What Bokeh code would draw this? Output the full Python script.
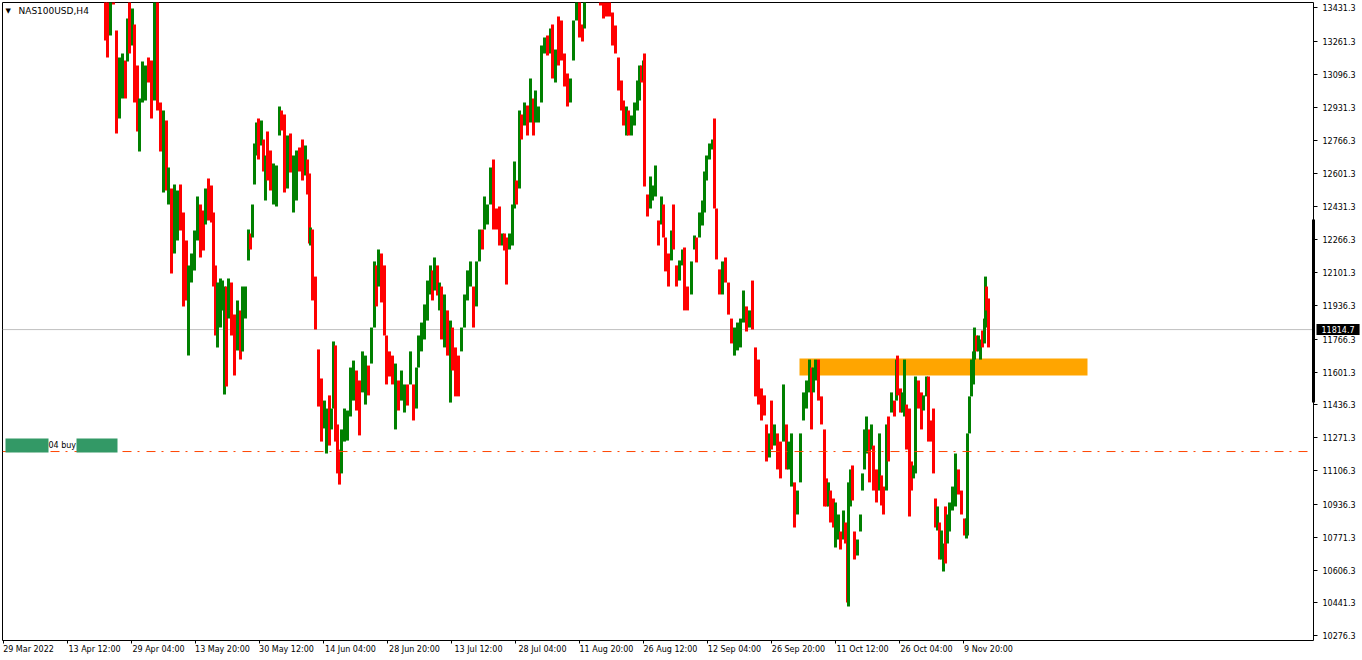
from bokeh.plotting import figure
from bokeh.models import (Range1d, LinearAxis, FixedTicker, PrintfTickFormatter,
                          Span, BoxAnnotation, Label, ColumnDataSource)
from bokeh.embed import file_html
from bokeh.resources import INLINE

symbol_title = "NAS100USD,H4"

# H4 bars (bar position on the time axis, one unit per bar)
bar_index = [105,107,110,113,116,119,122,125,127,129,132,134,137,139,142,145,148,151,154,157,
             160,163,166,168,171,174,177,180,183,186,188,191,194,197,200,203,205,208,211,213,
             215,217,220,222,224,226,228,231,234,237,240,242,245,248,250,252,254,256,258,261,
             263,265,267,270,273,276,279,281,284,287,290,293,296,299,302,305,307,309,310,312,
             315,318,321,324,326,329,331,333,335,337,339,341,344,347,350,353,356,359,362,365,
             368,371,374,376,378,381,384,386,389,392,395,398,401,404,407,410,413,416,418,421,
             424,427,430,432,434,437,439,441,444,447,450,452,455,458,461,464,467,470,473,476,
             479,482,484,487,490,493,496,499,502,504,506,509,512,514,516,519,521,524,527,530,
             533,535,538,541,544,547,550,552,555,558,561,564,567,570,573,576,579,582,584,588,
             592,596,600,603,606,609,612,615,618,621,623,626,628,631,634,637,639,641,643,644,
             647,650,652,655,658,661,663,665,668,671,673,676,679,682,684,687,691,694,696,699,
             702,704,706,709,712,714,716,719,722,725,728,731,734,737,740,743,746,749,752,755,
             758,761,764,766,769,771,774,777,780,783,786,788,791,794,797,800,803,806,809,811,
             813,815,818,821,824,826,828,830,833,835,838,840,843,845,847,848,850,852,854,857,
             860,862,864,866,869,871,873,876,879,881,883,886,888,891,894,896,897,900,902,904,
             906,909,911,913,915,918,921,923,926,928,931,933,935,937,939,941,943,945,947,949,
             952,955,958,961,964,966,967,969,971,973,974,976,978,980,982,984,985,986,988]

open_ = [13480,13440,13320,13540,13300,12900,13000,13150,13180,13450,13260,13330,13120,12740,12980,12990,13160,13150,12990,13470,
         12940,12530,12850,12460,12510,12220,12280,12520,12380,12240,11710,12070,12130,12280,12420,12400,12360,12550,12520,12380,
         12120,11750,11850,11930,11520,12010,11890,12030,11870,11730,11890,11730,11890,12180,12290,12290,12560,12710,12860,12760,
         12750,12480,12790,12700,12460,12450,12810,12900,12880,12540,12780,12420,12480,12720,12750,12600,12650,12580,12250,12300,
         12060,11700,11550,11330,11210,11460,11330,11440,11710,11320,11200,11110,11270,11280,11400,11480,11590,11540,11520,11460,
         11620,11660,11840,12120,12050,12180,12120,11770,11690,11670,11330,11540,11470,11410,11530,11550,11520,11430,11640,11720,
         11780,11880,12000,12100,12030,12120,11930,12010,11750,11890,11470,11810,11710,11670,11720,11840,11980,12050,12010,11950,
         12170,12300,12330,12360,12460,12650,12410,12420,12250,12290,12260,12230,12250,12440,12550,12540,12880,12850,12930,12870,
         12960,12870,12865,12970,13210,13280,13210,13330,13070,13370,13350,13190,13090,12970,13180,13380,13490,13340,13340,13480,
         13650,13490,13550,13500,13480,13500,13400,13330,13170,13050,12950,12800,12900,12800,12850,12930,12980,13130,13070,13160,
         12480,12435,12470,12495,12350,12355,12430,12265,12185,12175,12425,12125,12070,12145,12210,12020,12000,12225,12265,12290,
         12350,12415,12575,12675,12725,12760,12410,12105,12000,12165,12040,11860,11695,11720,11735,11860,11920,11835,11890,11710,
         11650,11505,11475,11325,11180,11440,11240,11280,11240,11265,11325,11120,11035,11035,10895,11055,11365,11425,11510,11610,
         11510,11565,11650,11470,11300,11055,10935,10995,10955,10730,10770,10790,10770,10835,10790,10440,10935,11120,10790,10690,
         10810,11015,11120,11200,11300,11220,11220,11100,11015,11070,11015,11015,11365,11405,11450,11465,11670,11510,11405,11385,
         11425,11405,11140,11075,11100,11550,11490,11415,11485,11570,11350,11410,10955,10815,10835,10670,10610,10915,10750,10810,
         10915,10935,11100,10995,10855,10775,10790,11300,11490,11545,11670,11775,11712,11670,11800,11750,11835,12020,11920]

high = [13518,13493,13543,13568,13317,13182,13202,13167,13378,13493,13428,13347,13141,12976,13162,13141,13182,13167,13518,13493,
        12956,12915,12865,12629,12523,12544,12513,12544,12403,12262,12137,12197,12313,12483,12443,12413,12523,12574,12539,12403,
        12137,12051,12071,12061,12031,12031,12071,12051,11890,11961,11911,12031,12031,12318,12297,12443,12750,12855,12875,12865,
        12770,12689,12810,12714,12649,12639,12935,12915,12895,12790,12800,12689,12714,12730,12770,12740,12669,12599,12328,12318,
        12081,11715,11569,11458,11418,11484,11418,11755,11735,11338,11212,11313,11418,11408,11624,11659,11609,11559,11705,11684,
        11634,11825,12157,12137,12217,12197,12137,11785,11705,11684,11644,11559,11609,11539,11539,11705,11539,11624,11785,11850,
        11941,12061,12137,12112,12177,12137,12051,12031,11991,11911,11860,11825,11725,11684,11825,11991,12112,12157,12031,12157,
        12318,12318,12483,12443,12629,12669,12423,12433,12297,12297,12277,12297,12443,12659,12564,12915,12895,12956,12940,13076,
        12976,13016,12935,13242,13282,13292,13327,13347,13222,13388,13368,13202,13101,13076,13368,13518,13508,13347,13543,13619,
        13669,13644,13568,13518,13493,13518,13408,13342,13182,13066,12966,12935,12915,12890,12956,13066,13141,13141,13167,13202,
        12493,12584,12539,12639,12363,12483,12443,12277,12197,12313,12443,12137,12162,12217,12227,12031,12157,12287,12277,12403,
        12463,12609,12689,12750,12770,12875,12423,12117,12157,12177,12051,11870,11825,11850,11870,12011,11931,11911,12061,11725,
        11664,11519,11484,11338,11293,11458,11338,11293,11252,11539,11338,11252,11293,11047,11006,11293,11499,11559,11664,11624,
        11624,11664,11664,11479,11313,11067,11047,11006,10966,10946,10886,10800,10906,10846,10800,11047,11112,11132,10800,10760,
        10886,11092,11313,11378,11313,11338,11232,11112,11293,11082,11026,11338,11378,11499,11458,11664,11684,11519,11499,11664,
        11438,11418,11152,11132,11579,11559,11499,11484,11579,11579,11358,11418,10966,10926,10846,10805,10740,10926,10886,10946,
        11026,11192,11112,11006,10866,10866,11293,11479,11664,11705,11825,11785,11785,11765,11810,11870,12081,12031,11971]

low = [13267,13182,13292,13448,12800,12875,12976,12976,13162,13202,13242,12956,12810,12709,12956,12966,13056,12875,12966,12915,
       12709,12503,12513,12443,12096,12197,12262,12313,11931,11961,11684,12051,12112,12262,12177,12212,12343,12363,12353,12031,
       11785,11725,11825,11911,11489,11529,11870,11785,11584,11710,11664,11705,11870,12162,12217,12277,12544,12689,12669,12740,
       12609,12463,12564,12513,12443,12433,12790,12815,12503,12523,12604,12403,12463,12609,12564,12589,12493,12247,12237,11961,
       11815,11428,11252,11318,11192,11232,11313,11418,11252,11092,11036,11092,11252,11257,11378,11458,11408,11283,11499,11438,
       11484,11644,11825,11931,12031,11951,11785,11539,11579,11539,11313,11408,11458,11398,11433,11539,11358,11418,11624,11705,
       11765,11860,11991,11961,12011,11986,11911,11765,11725,11684,11448,11609,11479,11479,11705,11825,11961,12031,11825,11931,
       12157,12217,12318,12343,12443,12318,12318,12237,12237,12212,12041,12217,12237,12423,12443,12523,12770,12840,12790,12855,
       12790,12855,12855,12956,13202,13192,13202,13076,13056,13141,13167,13036,12935,12956,13167,13368,13282,13262,13327,13468,
       13493,13478,13443,13378,13388,13388,13242,13202,13016,12915,12840,12790,12790,12790,12840,12915,12966,13056,13066,12534,
       12383,12423,12463,12483,12237,12343,12277,12107,12031,12162,12217,12031,12061,12137,11911,11911,11991,12217,12152,12277,
       12338,12403,12564,12669,12719,12423,12167,11991,11991,12051,11890,11745,11684,11710,11725,11850,11805,11825,11815,11479,
       11438,11358,11383,11152,11172,11212,11232,11112,11067,11252,11112,11112,11026,10820,10886,11047,11358,11418,11499,11313,
       11499,11559,11458,11338,10926,10926,10926,10846,10820,10720,10760,10710,10760,10740,10444,10424,10926,10956,10660,10680,
       10800,11006,11112,11192,11047,11212,11006,10946,11006,10931,10886,11006,11152,11398,11378,11458,11484,11398,11398,11378,
       11212,10876,11006,11067,11092,11418,11313,11408,11479,11252,11252,11092,10820,10805,10660,10660,10599,10640,10740,10800,
       10906,10926,10986,10886,10780,10765,10780,11293,11479,11539,11664,11705,11705,11664,11725,11745,11825,11911,11725]

close = [13290,13210,13500,13460,12830,13150,13180,13000,13350,13230,13400,12990,12840,12950,13140,13120,13070,12900,13480,12940,
         12730,12890,12540,12610,12120,12520,12490,12330,11960,11980,12110,12180,12290,12460,12200,12230,12500,12380,12370,12050,
         11810,12030,12050,12040,12010,11560,12050,11810,11610,11940,11690,12010,12010,12300,12230,12420,12730,12830,12690,12850,
         12630,12670,12590,12530,12630,12620,12920,12830,12530,12770,12620,12670,12690,12620,12580,12730,12510,12270,12320,11990,
         11830,11450,11280,11440,11400,11250,11400,11730,11280,11110,11060,11290,11400,11390,11600,11640,11430,11300,11690,11660,
         11500,11810,12130,11950,12200,11970,11810,11560,11590,11550,11620,11420,11590,11520,11440,11690,11370,11610,11770,11840,
         11920,12040,12120,11980,12160,12000,12040,11790,11970,11700,11840,11630,11500,11500,11810,11970,12090,12140,11850,12140,
         12300,12230,12470,12430,12610,12340,12330,12250,12290,12220,12060,12290,12430,12640,12460,12890,12780,12940,12800,13060,
         12800,13000,12925,13220,13270,13200,13310,13090,13210,13160,13180,13050,12950,13060,13350,13500,13300,13270,13520,13600,
         13510,13630,13450,13390,13400,13400,13250,13210,13030,12930,12850,12920,12800,12880,12940,13050,13130,13060,13160,12560,
         12395,12570,12530,12625,12250,12470,12290,12120,12045,12300,12230,12040,12150,12210,11930,11920,12145,12280,12160,12390,
         12450,12595,12680,12740,12765,12440,12180,12000,12145,12060,11900,11755,11815,11840,11860,12000,11815,11905,11830,11495,
         11450,11370,11390,11165,11285,11225,11330,11125,11080,11525,11125,11245,11280,10830,10995,11280,11490,11550,11655,11325,
         11615,11655,11470,11345,10940,10935,11040,10855,10830,10935,10880,10720,10895,10750,10460,11030,11100,10965,10670,10750,
         10880,11085,11300,11370,11060,11330,11015,10955,11280,10940,10895,11325,11160,11490,11385,11655,11495,11405,11490,11655,
         11220,10890,11015,11125,11570,11425,11320,11475,11570,11260,11260,11100,10830,10915,10670,10795,10730,10650,10875,10935,
         11015,11180,10995,10895,10790,10855,11280,11470,11655,11695,11815,11710,11780,11760,11730,11865,12070,11920,11814.7]

price_ticks = [13431.3, 13261.3, 13096.3, 12931.3, 12766.3, 12601.3, 12431.3, 12266.3, 12101.3, 11936.3,
               11766.3, 11601.3, 11436.3, 11271.3, 11106.3, 10936.3, 10771.3, 10606.3, 10441.3, 10276.3]

time_tick_bars = [3, 67, 131, 195, 259, 323, 387, 451, 515, 579, 643, 707, 771, 835, 899, 963]
time_tick_labels = ["29 Mar 2022", "13 Apr 12:00", "29 Apr 04:00", "13 May 20:00", "30 May 12:00",
                    "14 Jun 04:00", "28 Jun 20:00", "13 Jul 12:00", "28 Jul 04:00", "11 Aug 20:00",
                    "26 Aug 12:00", "12 Sep 04:00", "26 Sep 20:00", "11 Oct 12:00", "26 Oct 04:00",
                    "9 Nov 20:00"]

current_price = 11814.7
zone_bars = [799, 1087]
zone_prices = [11584, 11669]
order_price = 11202
order_text = "04 buy"
order_text_bar = 48
order_text_price = 11232
mask_left_bars = [5, 48]
mask_right_bars = [76, 117]
mask_prices = [11197, 11267]
scale_bar_prices = [11448, 12368]

bar_range = [2, 1313]
price_range = [10252.6, 13458.0]

UP = "#008000"
DOWN = "#FF0000"
FONT = "DejaVu Sans"
TOP_PAD = 20   # hidden strip above the chart that hosts the price tag's layout slot

colors = [UP if c >= o else DOWN for o, c in zip(open_, close)]
src = ColumnDataSource(dict(x=bar_index, open=open_, high=high, low=low, close=close, color=colors))

p = figure(width=1360, height=656 + TOP_PAD, x_range=Range1d(*bar_range), y_range=Range1d(*price_range),
           output_backend="svg", toolbar_location=None,
           x_axis_location=None, y_axis_location=None,
           min_border_left=0, min_border_top=TOP_PAD, min_border_right=49, min_border_bottom=18,
           background_fill_color="white", border_fill_color="white")
p.styles = {"margin-left": "2px", "margin-top": f"{2 - TOP_PAD}px"}
p.outline_line_color = "black"
p.outline_line_width = 1
p.xgrid.visible = False
p.ygrid.visible = False

# current price tag on the price scale (lives in a side panel, so it is not clipped to the frame)
price_tag = Label(x=1314, y=current_price, x_units="screen", y_units="data",
                  text=f"{current_price:.1f}", text_font=FONT, text_font_size="8px",
                  text_color="white", text_baseline="middle",
                  background_fill_color="black", background_fill_alpha=1.0,
                  padding=(5, 2))
p.add_layout(price_tag, "above")

# right price scale: thick range marker, then labelled axis
bar_axis = LinearAxis(ticker=FixedTicker(ticks=[]), bounds=tuple(scale_bar_prices),
                      axis_line_color="black", axis_line_width=3,
                      major_tick_out=0, major_tick_in=0, minor_tick_out=0, minor_tick_in=0,
                      major_label_text_font_size="0px", major_label_standoff=0)
p.add_layout(bar_axis, "right")
yax = LinearAxis(ticker=FixedTicker(ticks=price_ticks), formatter=PrintfTickFormatter(format="%.1f"),
                 axis_line_color=None, major_tick_out=4, major_tick_in=0,
                 minor_tick_out=0, minor_tick_in=0, major_tick_line_color="black",
                 major_label_standoff=5, major_label_text_font=FONT,
                 major_label_text_font_size="8px", major_label_text_color="black")
p.add_layout(yax, "right")

# bottom time scale: tick marks, then left-aligned labels
tick_axis = LinearAxis(ticker=FixedTicker(ticks=time_tick_bars), axis_line_color=None,
                       major_tick_out=3, major_tick_in=0, minor_tick_out=0, minor_tick_in=0,
                       major_tick_line_color="black",
                       major_label_overrides={t: "" for t in time_tick_bars},
                       major_label_text_font_size="0px", major_label_standoff=0)
p.add_layout(tick_axis, "below")
label_pos = [t + int(round(1 + 2.2 * len(s))) for t, s in zip(time_tick_bars, time_tick_labels)]
label_axis = LinearAxis(ticker=FixedTicker(ticks=label_pos), axis_line_color=None,
                        major_tick_out=0, major_tick_in=0, minor_tick_out=0, minor_tick_in=0,
                        major_label_overrides={pp: s for pp, s in zip(label_pos, time_tick_labels)},
                        major_label_standoff=1, major_label_text_font=FONT,
                        major_label_text_font_size="8px", major_label_text_color="black")
p.add_layout(label_axis, "below")

# supply/demand zone (drawn under the bars)
p.quad(left=[zone_bars[0]], right=[zone_bars[1]], bottom=[zone_prices[0]], top=[zone_prices[1]],
       fill_color="#FFA500", line_color=None)

p.add_layout(Span(location=current_price, dimension="width", line_color="#C0C0C0",
                  line_width=1, level="underlay"))

p.segment(x0="x", y0="low", x1="x", y1="high", line_color="color", line_width=3, source=src)

p.add_layout(Span(location=order_price, dimension="width", line_color="#FF4500",
                  line_width=1, line_dash="9 6 2 7"))

for lr in (mask_left_bars, mask_right_bars):
    p.add_layout(BoxAnnotation(left=lr[0], right=lr[1], bottom=mask_prices[0], top=mask_prices[1],
                               fill_color="#339966", fill_alpha=1.0, line_color=None))

p.add_layout(Label(x=order_text_bar, y=order_text_price, text=order_text, text_font=FONT,
                   text_font_size="8px", text_color="#000000", text_baseline="middle"))

p.add_layout(Label(x=3, y=630, x_units="screen", y_units="screen", text="\u25bc",
                   text_font=FONT, text_font_size="7px", text_color="black", text_baseline="middle"))
p.add_layout(Label(x=16, y=630, x_units="screen", y_units="screen", text=symbol_title,
                   text_font=FONT, text_font_size="9px", text_color="black", text_baseline="middle"))

open("out.html", "w").write(file_html(p, INLINE))
